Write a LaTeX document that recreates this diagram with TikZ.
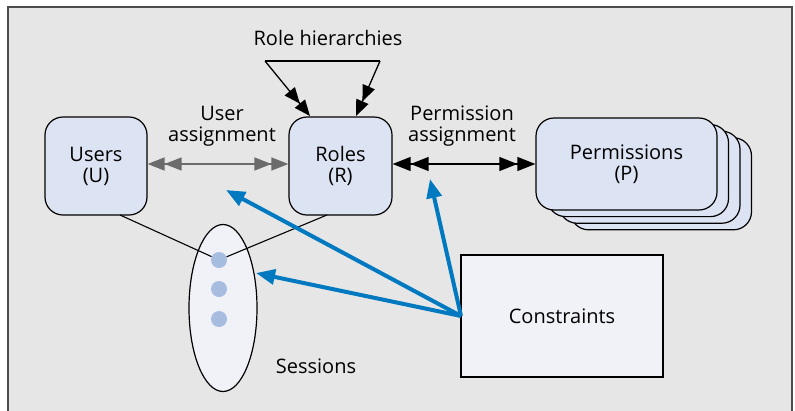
\documentclass[tikz,border=0pt]{standalone}
\usepackage{fontspec}
\setmainfont{Open Sans}
\usetikzlibrary{arrows.meta,shapes.geometric}
\definecolor{bg}{HTML}{E6E6E6}
\definecolor{boxfill}{HTML}{DCE3F2}
\definecolor{palefill}{HTML}{F1F2F8}
\definecolor{dotc}{HTML}{A6BDE0}
\definecolor{blueA}{HTML}{0079C1}
\definecolor{grayA}{HTML}{6B6B6B}
\tikzset{
  every node/.style={font=\fontsize{20}{21}\selectfont, text=black},
  entity/.style={draw=black, line width=1.2pt, fill=boxfill, rounded corners=18pt, align=center, inner sep=0pt},
  grayarrow/.style={draw=grayA, line width=1.4pt, {Triangle[length=17pt,width=13pt,sep=0pt] Triangle[length=17pt,width=13pt,sep=0pt]}-{Triangle[length=17pt,width=13pt,sep=0pt] Triangle[length=17pt,width=13pt,sep=0pt]}},
  blackarrow/.style={draw=black, line width=1.3pt, {Triangle[length=18pt,width=14pt,sep=0pt] Triangle[length=18pt,width=14pt,sep=0pt]}-{Triangle[length=18pt,width=14pt,sep=0pt] Triangle[length=18pt,width=14pt,sep=0pt]}},
  hierarrow/.style={draw=black, line width=1.3pt, -{Triangle[length=16pt,width=13pt,sep=0pt] Triangle[length=16pt,width=13pt,sep=0pt]}},
  bluearrow/.style={draw=blueA, line width=4pt, -{Triangle[length=19pt,width=15pt]}},
  sessdot/.style={circle, fill=dotc, minimum size=16pt, inner sep=0pt},
  thinline/.style={draw=black, line width=1.1pt},
  label/.style={align=center, inner sep=0pt}
}
\begin{document}
\begin{tikzpicture}[x=1pt,y=-1pt]
\useasboundingbox (0,0) rectangle (795,410);
% frame
\fill[white] (0,0) rectangle (795,410);
\draw[fill=bg, draw=black!70, line width=1.3pt] (8,7) rectangle (792,430);

% users and roles
\node[entity, minimum width=102pt, minimum height=98pt] (users) at (96,166) {Users\\(U)};
\node[entity, minimum width=103pt, minimum height=98pt] (roles) at (340.5,166) {Roles\\(R)};

% permissions stack
\foreach \k in {3,2,1} {
  \node[entity, minimum width=181pt, minimum height=92pt] (perm\k) at ({626.5+11.5*\k},{164+6.6*\k}) {};
}
\node[entity, minimum width=181pt, minimum height=92pt] (perm) at (626.5,164) {Permissions\\(P)};

% sessions
\node[ellipse, draw=black, line width=1.2pt, fill=palefill, minimum width=68pt, minimum height=167pt, inner sep=0pt] (sess) at (223,308) {};
\coordinate (ua) at (120,215);
\coordinate (ra) at (327,215);
\node[sessdot] (d1) at (219,260) {};
\node[sessdot] (d2) at (219,289) {};
\node[sessdot] (d3) at (219,319) {};
\draw[thinline] (ua) -- (d1);
\draw[thinline] (ra) -- (d1);
\node[label] (sesslabel) at (316,366) {Sessions};

% constraints
\node[draw=black, line width=1.3pt, fill=palefill, minimum width=202pt, minimum height=122pt, inner sep=0pt] (cons) at (562,316) {Constraints};

% labels
\node[label] (rh) at (328,38) {Role hierarchies};
\node[label] (ualabel) at (222,126) {User\\assignment};
\node[label] (palabel) at (462,126) {Permission\\assignment};

% role hierarchy arrows
\coordinate (rhL) at (265,61);
\coordinate (rhR) at (380,61);
\coordinate (rtL) at (310,116);
\coordinate (rtR) at (356,116);
\draw[line width=1.3pt] (rhL) -- (rhR);
\draw[hierarrow] (rhL) -- (rtL);
\draw[hierarrow] (rhR) -- (rtR);

% assignment arrows
\draw[grayarrow] (users.east |- 0,164) -- (roles.west |- 0,164);
\draw[blackarrow] (roles.east |- 0,164) -- (perm.west |- 0,164);

% constraint arrows
\coordinate (cs) at (461,316);
\coordinate (t1) at (226,190);
\coordinate (t2) at (256,273);
\coordinate (t3) at (430,179);
\draw[bluearrow] (cs) -- (t1);
\draw[bluearrow] (cs) -- (t2);
\draw[bluearrow] (cs) -- (t3);
\end{tikzpicture}
\end{document}
